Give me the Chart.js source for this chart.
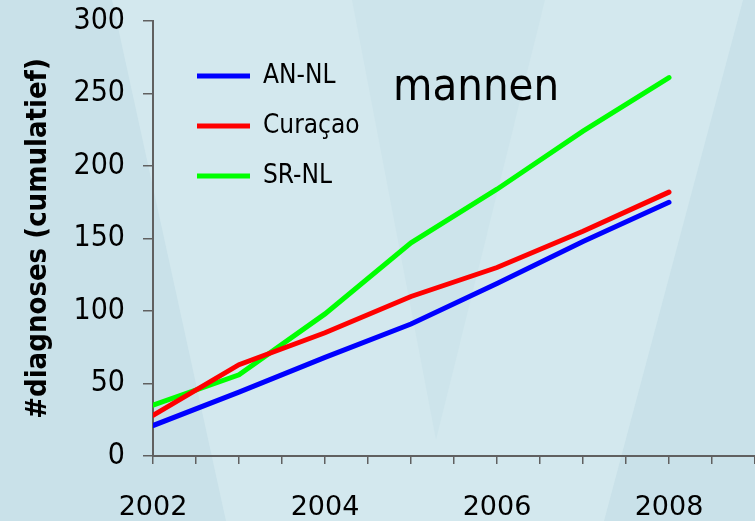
<!DOCTYPE html>
<html>
<head>
<meta charset="utf-8">
<script src="https://cdn.jsdelivr.net/npm/chart.js@4.4.1/dist/chart.umd.min.js"></script>
<style>
  html, body { margin: 0; padding: 0; background: #d3e8ee; }
  #wrap { width: 755px; height: 521px; }
</style>
</head>
<body>
<div id="wrap"><canvas id="chart" width="755" height="521"></canvas></div>
<script>
// jaren en cumulatieve aantallen diagnoses (mannen)
const years = [2002, 2003, 2004, 2005, 2006, 2007, 2008];
const anNl = [21, 44, 68, 91, 119, 148, 175];
const curacao = [28, 63, 85, 110, 130, 155, 182];
const srNl = [35, 56, 98, 147, 184, 224, 261];
const xLabelYears = [2002, 2004, 2006, 2008];
const seriesNames = ['AN-NL', 'Curaçao', 'SR-NL'];
const seriesColors = ['#0000ff', '#ff0000', '#00ff00'];

const condensed = '"DejaVu Sans Condensed", "Liberation Sans Narrow", "Liberation Sans", sans-serif';

function toPoints(values) {
    return years.map((y, i) => ({ x: y, y: values[i] }));
}

// achtergrond met de lichte V-vormen
const background = {
    id: 'background',
    beforeDraw(chart) {
        const ctx = chart.ctx;
        const w = chart.width, h = chart.height;
        ctx.save();
        ctx.fillStyle = '#d3e8ee';
        ctx.fillRect(0, 0, w, h);
        ctx.fillStyle = '#c9e1e9';
        ctx.beginPath();
        ctx.moveTo(0, 0); ctx.lineTo(112, 0); ctx.lineTo(226, h); ctx.lineTo(0, h);
        ctx.fill();
        ctx.fillStyle = '#cde4eb';
        ctx.beginPath();
        ctx.moveTo(352, 0); ctx.lineTo(545, 0); ctx.lineTo(436, 440);
        ctx.fill();
        ctx.fillStyle = '#c9e1e9';
        ctx.beginPath();
        ctx.moveTo(743, 0); ctx.lineTo(w, 0); ctx.lineTo(w, h); ctx.lineTo(604, h);
        ctx.fill();
        ctx.restore();
    }
};

// legenda binnen het grafiekvlak plaatsen
const legendPlacement = {
    id: 'legendPlacement',
    afterLayout(chart) {
        const lg = chart.legend;
        const area = chart.chartArea;
        lg.left = area.left + 20;
        lg.top = area.top + 18;
        lg.right = area.right;
        lg.bottom = area.bottom;
    }
};

const panelTitle = {
    id: 'panelTitle',
    afterDraw(chart) {
        const ctx = chart.ctx;
        ctx.save();
        ctx.font = '45px ' + condensed;
        ctx.fillStyle = '#000';
        ctx.textAlign = 'left';
        ctx.textBaseline = 'alphabetic';
        ctx.fillText('mannen', 393, 100);
        ctx.restore();
    }
};

const ctx = document.getElementById('chart').getContext('2d');
new Chart(ctx, {
    type: 'line',
    data: {
        datasets: [anNl, curacao, srNl].map((vals, i) => ({
            label: seriesNames[i],
            data: toPoints(vals),
            borderColor: seriesColors[i],
            backgroundColor: seriesColors[i],
            borderWidth: 5,
            borderCapStyle: 'round',
            pointRadius: 0,
            tension: 0,
            fill: false
        }))
    },
    options: {
        responsive: false,
        animation: false,
        layout: { padding: { top: 21, right: 0, left: 0, bottom: 0 } },
        scales: {
            x: {
                type: 'linear',
                min: 2002,
                max: 2009,
                afterFit(scale) {
                    scale.height = 65;
                    scale.paddingRight = 0;
                },
                border: { display: true, color: '#606060', width: 2 },
                grid: { drawOnChartArea: false, tickLength: 8, color: '#606060', lineWidth: 1.5 },
                ticks: {
                    stepSize: 0.5,
                    autoSkip: false,
                    maxRotation: 0,
                    padding: 28,
                    color: '#000',
                    font: { family: '"DejaVu Sans", Verdana, sans-serif', size: 27 },
                    callback: (v) => xLabelYears.includes(v) ? String(v) : ''
                }
            },
            y: {
                min: 0,
                max: 300,
                afterFit(scale) {
                    scale.width = 153;
                    scale.paddingTop = 0;
                    scale.paddingBottom = 0;
                },
                border: { display: true, color: '#606060', width: 2 },
                grid: { drawOnChartArea: false, tickLength: 10, color: '#606060', lineWidth: 1.5 },
                ticks: {
                    stepSize: 50,
                    padding: 18,
                    color: '#000',
                    font: { family: condensed, size: 30 }
                },
                title: {
                    display: true,
                    text: '#diagnoses (cumulatief)',
                    color: '#000',
                    padding: { top: 21, bottom: 0 },
                    font: { family: condensed, size: 29, weight: 'bold' }
                }
            }
        },
        plugins: {
            legend: {
                position: 'chartArea',
                align: 'start',
                labels: {
                    usePointStyle: true,
                    pointStyle: 'line',
                    pointStyleWidth: 53,
                    padding: 24,
                    color: '#000',
                    font: { family: condensed, size: 26 }
                }
            },
            tooltip: { enabled: false }
        }
    },
    plugins: [background, legendPlacement, panelTitle]
});
</script>
</body>
</html>
